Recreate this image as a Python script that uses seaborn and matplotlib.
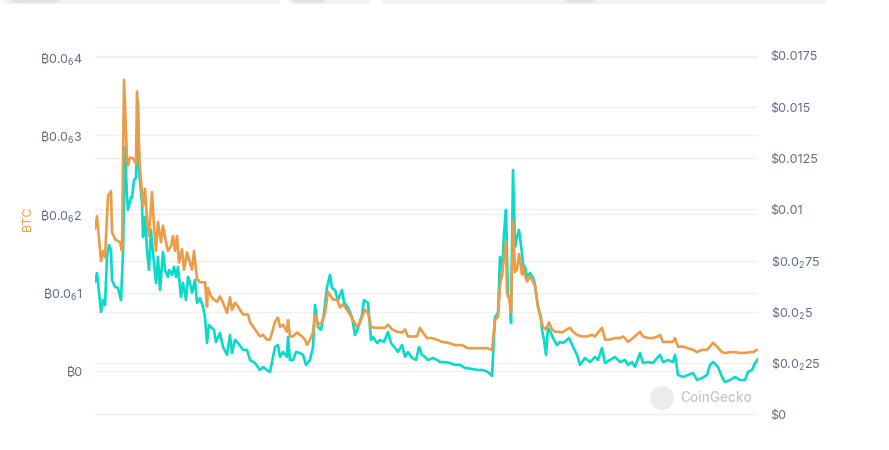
import matplotlib
matplotlib.use("Agg")
import matplotlib.pyplot as plt
import seaborn as sns
import pandas as pd
from matplotlib.patches import FancyBboxPatch, Circle, Ellipse

# ---------------- data ----------------
# day offsets and BTC price (units of 1e-7 BTC)
btc_day = [0, 2, 6, 8, 10, 13, 16, 17, 20, 25, 27, 29, 32, 33, 35, 38, 41, 42, 45, 48,
           50, 52, 54, 57, 59, 61, 63, 66, 68, 71, 73, 76, 78, 80, 82, 84, 87, 89, 92, 95,
           97, 99, 102, 105, 110, 112, 113, 116, 119, 122, 125, 128, 132, 135, 137, 140, 143, 148, 153, 155,
           160, 165, 168, 172, 175, 178, 180, 183, 185, 188, 192, 193, 195, 198, 202, 207, 210, 212, 215, 218,
           220, 223, 227, 230, 233, 236, 238, 242, 245, 248, 252, 255, 258, 262, 265, 270, 273, 276, 280, 285,
           290, 293, 297, 302, 307, 310, 313, 318, 322, 325, 328, 332, 337, 342, 347, 353, 360, 367, 373, 380,
           387, 392, 397, 400, 403, 405, 407, 409, 411, 412, 414, 416, 418, 420, 422, 424, 427, 428, 430, 432,
           435, 438, 440, 443, 446, 448, 451, 454, 457, 460, 463, 467, 472, 475, 478, 482, 487, 492, 497, 500,
           503, 507, 510, 515, 520, 525, 528, 530, 533, 538, 545, 548, 553, 558, 563, 565, 568, 573, 578, 580,
           583, 588, 593, 598, 602, 607, 612, 615, 618, 622, 627, 630, 635, 640, 645, 650, 655, 658, 662]
btc_price = [1.81, 1.97, 1.40, 1.53, 1.45, 2.23, 2.29, 1.77, 1.68, 1.64, 1.53, 3.71, 2.71, 2.62, 2.72, 2.71, 2.64, 3.56, 2.58, 2.10,
             2.32, 1.94, 1.72, 2.28, 1.85, 1.53, 1.90, 1.64, 1.85, 1.64, 1.53, 1.59, 1.72, 1.53, 1.72, 1.38, 1.55, 1.29, 1.51, 1.38,
             1.29, 1.53, 1.17, 1.13, 1.13, 0.82, 1.06, 0.95, 0.91, 0.88, 0.95, 0.87, 0.74, 0.94, 0.78, 0.87, 0.82, 0.72, 0.72, 0.62,
             0.53, 0.44, 0.46, 0.40, 0.40, 0.53, 0.63, 0.68, 0.56, 0.59, 0.50, 0.65, 0.44, 0.44, 0.49, 0.44, 0.40, 0.33, 0.40, 0.49,
             0.72, 0.59, 0.62, 0.74, 1.01, 0.95, 0.91, 0.91, 0.81, 0.85, 0.78, 0.72, 0.65, 0.56, 0.62, 0.78, 0.74, 0.56, 0.55, 0.55,
             0.55, 0.59, 0.53, 0.50, 0.49, 0.53, 0.44, 0.44, 0.44, 0.55, 0.49, 0.42, 0.42, 0.40, 0.37, 0.36, 0.33, 0.33, 0.29, 0.29,
             0.29, 0.29, 0.27, 0.65, 0.69, 1.08, 1.26, 1.42, 1.64, 1.00, 0.94, 0.74, 1.91, 1.26, 1.29, 1.49, 1.23, 1.33, 1.21, 1.14,
             1.21, 1.14, 1.08, 0.82, 0.65, 0.56, 0.53, 0.62, 0.53, 0.50, 0.50, 0.49, 0.53, 0.55, 0.50, 0.46, 0.44, 0.44, 0.46, 0.44,
             0.49, 0.55, 0.40, 0.40, 0.42, 0.42, 0.44, 0.42, 0.37, 0.42, 0.50, 0.44, 0.42, 0.42, 0.44, 0.46, 0.37, 0.37, 0.37, 0.42,
             0.31, 0.31, 0.29, 0.27, 0.24, 0.27, 0.27, 0.31, 0.36, 0.31, 0.24, 0.23, 0.24, 0.24, 0.23, 0.23, 0.24, 0.24, 0.27]

# day offsets and USD price (units of 1e-3 USD)
usd_day = [0, 2, 6, 8, 10, 12, 14, 16, 17, 20, 23, 26, 28, 30, 32, 33, 36, 37, 39, 41,
           43, 44, 47, 48, 50, 52, 54, 56, 58, 61, 63, 65, 68, 70, 73, 74, 77, 79, 81, 83,
           86, 88, 91, 93, 95, 97, 100, 102, 105, 108, 110, 112, 114, 117, 119, 121, 125, 128, 132, 135,
           137, 140, 143, 148, 152, 155, 160, 165, 168, 172, 175, 178, 180, 183, 185, 188, 192, 193, 195, 198,
           201, 205, 208, 211, 215, 218, 220, 223, 226, 229, 232, 235, 237, 240, 243, 247, 249, 253, 257, 260,
           263, 267, 269, 273, 276, 278, 282, 285, 289, 293, 296, 300, 303, 307, 310, 313, 317, 321, 324, 327,
           330, 333, 338, 342, 345, 350, 355, 360, 365, 370, 377, 383, 388, 393, 397, 400, 403, 405, 407, 409,
           411, 413, 415, 416, 418, 420, 422, 424, 427, 428, 430, 432, 435, 438, 440, 443, 446, 447, 449, 451,
           453, 456, 458, 462, 465, 468, 472, 474, 478, 482, 485, 490, 495, 500, 503, 507, 510, 515, 520, 525,
           530, 533, 537, 540, 545, 548, 553, 558, 562, 565, 568, 573, 578, 580, 583, 588, 593, 598, 602, 607,
           612, 615, 618, 623, 627, 630, 635, 640, 645, 650, 653, 657, 660, 663]
usd_price = [6.45, 6.89, 4.99, 5.57, 5.33, 7.68, 8.26, 8.02, 6.55, 6.21, 6.16, 5.57, 7.87, 13.06, 10.61, 9.98, 10.61, 10.56, 11.44, 11.54,
             15.35, 11.93, 10.32, 8.66, 9.63, 8.02, 7.04, 9.00, 7.87, 6.41, 7.68, 6.06, 7.92, 7.04, 6.70, 7.04, 6.80, 7.19, 6.70, 7.19,
             5.72, 6.41, 5.57, 6.70, 6.41, 5.92, 6.55, 5.43, 5.67, 5.23, 4.74, 3.47, 4.35, 4.21, 4.11, 3.52, 3.96, 3.28, 2.89, 3.86,
             2.98, 3.62, 3.47, 3.13, 3.13, 2.64, 2.49, 2.15, 2.30, 2.15, 2.05, 2.79, 3.28, 3.37, 2.79, 3.03, 2.79, 3.77, 2.64, 2.64,
             3.03, 2.98, 2.89, 2.40, 2.64, 3.28, 5.33, 4.25, 4.11, 4.94, 6.21, 6.80, 6.16, 6.06, 5.57, 6.06, 5.48, 5.18, 4.74, 3.86,
             4.21, 4.84, 5.57, 5.43, 3.62, 3.77, 3.47, 3.62, 3.52, 4.01, 3.47, 3.23, 3.03, 3.37, 2.79, 3.03, 2.74, 2.64, 3.28, 2.89,
             2.79, 2.64, 2.74, 2.64, 2.54, 2.54, 2.49, 2.40, 2.40, 2.25, 2.20, 2.15, 2.15, 2.05, 1.86, 4.74, 4.94, 7.68, 6.70, 8.85,
             9.98, 5.72, 5.72, 4.45, 11.93, 8.17, 8.66, 9.00, 7.87, 7.29, 7.19, 6.70, 6.89, 6.65, 6.31, 5.23, 4.74, 4.11, 3.62, 2.89,
             4.21, 3.96, 3.72, 3.37, 3.52, 3.47, 3.62, 3.72, 3.28, 2.89, 2.40, 2.74, 2.54, 2.79, 2.64, 3.23, 2.49, 2.64, 2.79, 2.54,
             2.64, 2.40, 2.54, 2.30, 2.98, 2.49, 2.54, 2.49, 2.74, 2.89, 2.54, 2.64, 2.54, 2.89, 1.91, 1.81, 1.91, 2.00, 1.66, 1.76,
             1.91, 2.40, 2.54, 2.30, 1.81, 1.56, 1.66, 1.81, 1.66, 1.66, 2.05, 2.15, 2.49, 2.69]

btc_ticks = [0, 1, 2, 3, 4]                       # units of 1e-7 BTC
btc_tick_labels = ["₿0", "₿0.0${}_{6}$1", "₿0.0${}_{6}$2", "₿0.0${}_{6}$3", "₿0.0${}_{6}$4"]
usd_ticks = [0, 2.5, 5, 7.5, 10, 12.5, 15, 17.5]  # units of 1e-3 USD
usd_tick_labels = ["$0", "\\$0.0${}_{2}$25", "\\$0.0${}_{2}$5", "\\$0.0${}_{2}$75",
                   "$0.01", "$0.0125", "$0.015", "$0.0175"]

# ---------------- style ----------------
sns.set_theme(style="white")
plt.rcParams["font.family"] = ["Inter", "Noto Sans", "DejaVu Sans"]
plt.rcParams["mathtext.fontset"] = "custom"
plt.rcParams["mathtext.rm"] = "Inter"
plt.rcParams["mathtext.it"] = "Inter"
plt.rcParams["mathtext.bf"] = "Inter"

ORANGE = "#eb9c47"
CYAN = "#0bd9c9"
LABEL = "#5f6d84"
GRID = "#eeeff1"

W, H = 889, 450
fig = plt.figure(figsize=(W / 100, H / 100), dpi=100)
fig.patch.set_facecolor("white")

# axes frame in pixels: x 95..758, y 40..420 (from top)
x0, x1, ytop, ybot = 95, 758, 40, 420
ax = fig.add_axes([x0 / W, 1 - ybot / H, (x1 - x0) / W, (ybot - ytop) / H])
ax2 = ax.twinx()

# left axis: 0 -> y=371, 4 -> y=57
lp = (371 - 57) / 4.0
ax.set_ylim(-(ybot - 371) / lp, (371 - ytop) / lp)
# right axis: 0 -> y=414, 17.5 -> y=56
rp = (414 - 56) / 17.5
ax2.set_ylim(-(ybot - 414) / rp, (414 - ytop) / rp)

df_btc = pd.DataFrame({"day": btc_day, "price": btc_price})
df_usd = pd.DataFrame({"day": usd_day, "price": usd_price})

sns.lineplot(data=df_btc, x="day", y="price", ax=ax, color=ORANGE, lw=1.9, zorder=3)
sns.lineplot(data=df_usd, x="day", y="price", ax=ax2, color=CYAN, lw=1.9, zorder=2)

ax.set_zorder(ax2.get_zorder() + 1)
ax.patch.set_visible(False)

for a in (ax, ax2):
    a.set_xlim(0, 663)
    a.set_xlabel("")
    a.set_ylabel("")
    a.set_xticks([])
    for s in a.spines.values():
        s.set_visible(False)
    a.tick_params(axis="y", length=0, labelsize=9, labelcolor=LABEL)

ax.set_yticks(btc_ticks)
ax.set_yticklabels(btc_tick_labels)
ax.tick_params(axis="y", pad=9)
ax2.set_yticks(usd_ticks)
ax2.set_yticklabels(usd_tick_labels)
ax2.tick_params(axis="y", pad=9)

# grid lines for both scales (drawn beneath lines)
for v in btc_ticks:
    ax2.axhline((v * lp + (414 - 371)) / rp, color=GRID, lw=1.0, zorder=0)
for v in usd_ticks:
    ax2.axhline(v, color=GRID, lw=1.0, zorder=0)

fig.text(28 / W, 1 - 218 / H, "BTC", rotation=90, color=ORANGE, fontsize=9,
         ha="center", va="center")

# CoinGecko watermark
fig.patches.append(Circle((662, H - 398), 12, transform=None,
                          facecolor="#ececec", edgecolor="none", zorder=5))
fig.text(680 / W, 1 - 398 / H, "CoinGecko", color="#c6c6c6", fontsize=9.8,
         ha="left", va="center", fontweight="medium")

# faint UI bars at the very top
for (bx, bw) in [(4, 276), (289, 81), (382, 444)]:
    fig.patches.append(FancyBboxPatch((bx, H - 4), bw, 10, boxstyle="round,pad=0,rounding_size=4",
                                      transform=None, facecolor="#f1f2f5", edgecolor="none"))
for (cx, cw) in [(35, 50), (309, 32), (580, 30)]:
    fig.patches.append(Ellipse((cx, H - 1), cw, 5, transform=None,
                               facecolor="#dfe2e7", edgecolor="none"))

fig.savefig("out.png", dpi=100)
